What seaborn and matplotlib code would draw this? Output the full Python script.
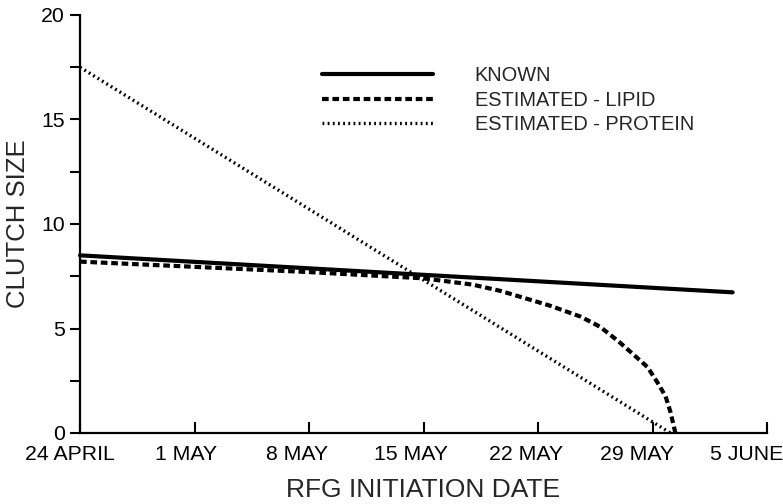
import matplotlib
matplotlib.use("Agg")
import matplotlib.pyplot as plt
import matplotlib.transforms as mtransforms
import seaborn as sns
import pandas as pd
from matplotlib.ticker import MultipleLocator

sns.set_style("ticks")
plt.rcParams['font.family'] = ['Liberation Sans', 'DejaVu Sans']

# Data (days after 24 April)
known_days = [0, 39.9]
known_size = [8.5, 6.73]
lipid_days = [0, 7, 14, 21, 24, 25.7, 28.7, 30.6, 31.8, 32.9, 33.8, 34.7, 35.3, 35.8, 36.1, 36.4]
lipid_size = [8.2, 7.95, 7.7, 7.4, 7.1, 6.8, 6.1, 5.57, 5.08, 4.4, 3.78, 3.15, 2.42, 1.75, 1.0, 0.0]
protein_days = [0, 36.1]
protein_size = [17.5, 0.0]
tick_days = [0, 7, 14, 21, 28, 35, 42]
tick_labels = ["24 APRIL", "1 MAY", "8 MAY", "15 MAY", "22 MAY", "29 MAY", "5 JUNE"]
series_names = ["KNOWN", "ESTIMATED - LIPID", "ESTIMATED - PROTEIN"]

df = pd.concat([
    pd.DataFrame({"day": known_days, "size": known_size, "series": series_names[0]}),
    pd.DataFrame({"day": lipid_days, "size": lipid_size, "series": series_names[1]}),
    pd.DataFrame({"day": protein_days, "size": protein_size, "series": series_names[2]}),
])

fig = plt.figure(figsize=(7.83, 5.04), dpi=100)
ax = fig.add_axes([80/783, 1-433/504, 687/783, 418/504])

styles = {
    series_names[0]: dict(lw=3.0, ls='-'),
    series_names[1]: dict(lw=3.0, ls=(0, (1.6, 0.9))),
    series_names[2]: dict(lw=2.4, ls=(0, (0.55, 1.0))),
}
for name in series_names:
    sub = df[df.series == name]
    sns.lineplot(data=sub, x="day", y="size", ax=ax, color="black",
                 label=name, sort=False, estimator=None, clip_on=False,
                 linewidth=styles[name]['lw'], linestyle=styles[name]['ls'])

ax.set_xlim(0, 42)
ax.set_ylim(0, 20)
ax.set_xticks(tick_days)
ax.set_xticklabels(tick_labels)
ax.yaxis.set_major_locator(MultipleLocator(5))
ax.yaxis.set_minor_locator(MultipleLocator(2.5))
ax.tick_params(axis='x', direction='in', length=8, width=1.5, labelsize=15.3, pad=9, colors='black')
ax.tick_params(axis='y', which='both', direction='out', length=7, width=1.5, labelsize=15.3, pad=4, colors='black')
for s in ['top', 'right']:
    ax.spines[s].set_visible(False)
for s in ['left', 'bottom']:
    ax.spines[s].set_linewidth(1.6)
    ax.spines[s].set_color('black')

# shift x tick labels slightly left as in the reference
shifts_px = [-10, -8, -12, -12, -12, -15, -20]
for lab, dx in zip(ax.get_xticklabels(), shifts_px):
    lab.set_transform(lab.get_transform() + mtransforms.ScaledTranslation(dx / 100, 0, fig.dpi_scale_trans))

ax.set_xlabel("RFG INITIATION DATE", fontsize=19, labelpad=10)
ax.set_ylabel("CLUTCH SIZE", fontsize=18.5, labelpad=8)

leg = ax.legend(loc='upper left', bbox_to_anchor=(0.352, 0.878), frameon=False,
                fontsize=14.4, handlelength=5.55, handletextpad=2.1,
                labelspacing=0.28, borderpad=0, borderaxespad=0)

fig.savefig("out.png", dpi=100)
